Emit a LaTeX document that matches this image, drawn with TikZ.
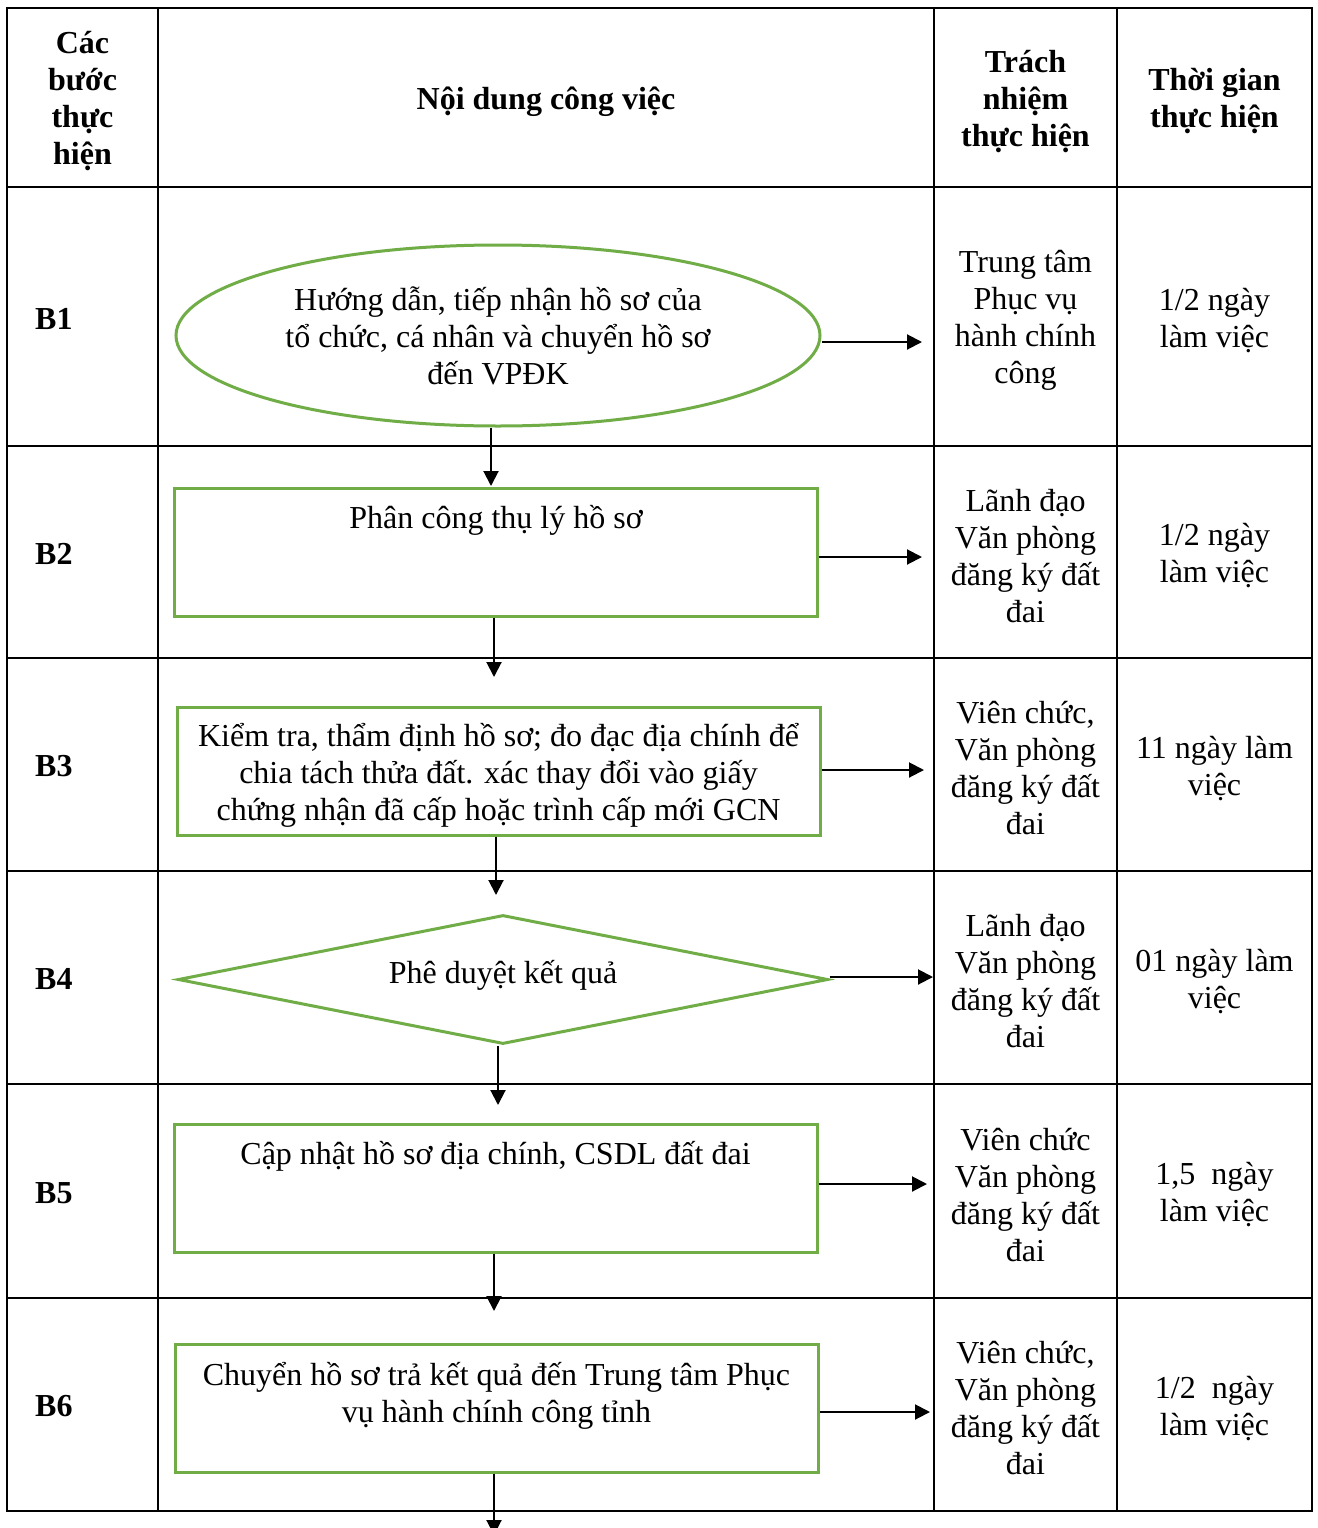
\documentclass[tikz,border=0pt]{standalone}
\usepackage{fontspec}
\setmainfont{Liberation Serif}
\usetikzlibrary{shapes.geometric,arrows.meta}

\definecolor{stepgreen}{RGB}{112,173,71}
\newcommand{\cellfont}{\fontsize{32}{37}\selectfont}

\tikzset{
  cell/.style={
    align=center,
    inner sep=0pt,
    yshift=-4pt
  },
  cellhead/.style={
    cell,
    font=\cellfont\bfseries
  },
  stepshape/.style={
    draw=stepgreen,
    line width=3pt,
    inner sep=0pt,
    align=center
  },
  stepbox/.style={
    stepshape,
    rectangle,
    minimum width=643pt,
    minimum height=128pt
  },
  stepoval/.style={
    stepshape,
    ellipse,
    minimum width=644pt,
    minimum height=181pt
  },
  stepcheck/.style={
    stepshape,
    diamond,
    aspect=5,
    minimum width=650pt,
    minimum height=129pt
  },
  flow/.style={
    -{Triangle[length=15pt,width=15pt]},
    line width=2pt
  },
}

\begin{document}
\begin{tikzpicture}[x=1pt, y=-1pt, font=\cellfont]

  \clip (0,0) rectangle (1317,1528);
  \fill[white] (0,0) rectangle (1317,1528);

  % table grid
  \foreach \x in {7,158,934,1117,1312}
    \draw[line width=2pt, line cap=rect] (\x,8) -- (\x,1511);
  \foreach \y in {8,187,446,658,871,1084,1298,1511}
    \draw[line width=2pt, line cap=rect] (7,\y) -- (1312,\y);

  % header row
  \foreach \x/\t [count=\i] in {82.5/{Các\\bước\\thực\\hiện},
                                546/{Nội dung công việc},
                                1025.5/{Trách\\nhiệm\\thực hiện},
                                1214.5/{Thời gian\\thực hiện}}
    \node[cellhead] (head-\i) at (\x,97.5) {\t};

  % step labels
  \foreach \y [count=\i] in {314.5,550,762.5,975.5,1189,1402.5}
    \node[cellhead, anchor=west] (label-\i) at (35,\y) {B\i};

  % who is responsible
  \foreach \y/\t [count=\i] in {316.5/{Trung tâm\\Phục vụ\\hành chính\\công},
                                552/{Lãnh đạo\\Văn phòng\\đăng ký đất\\đai},
                                764.5/{Viên chức,\\Văn phòng\\đăng ký đất\\đai},
                                977.5/{Lãnh đạo\\Văn phòng\\đăng ký đất\\đai},
                                1191/{Viên chức\\Văn phòng\\đăng ký đất\\đai},
                                1404.5/{Viên chức,\\Văn phòng\\đăng ký đất\\đai}}
    \node[cell] (who-\i) at (1025.5,\y) {\t};

  % time needed
  \foreach \y/\t [count=\i] in {316.5/{1/2 ngày\\làm việc},
                                552/{1/2 ngày\\làm việc},
                                764.5/{11 ngày làm\\việc},
                                977.5/{01 ngày làm\\việc},
                                1191/{1,5\ \ ngày\\làm việc},
                                1404.5/{1/2\ \ ngày\\làm việc}}
    \node[cell] (time-\i) at (1214.5,\y) {\t};

  % flow steps
  \node[stepoval] (b1) at (498,335.5) {Hướng dẫn, tiếp nhận hồ sơ của\\tổ chức, cá nhân và chuyển hồ sơ\\đến VPĐK};
  \node[stepbox, text height=22pt, text depth=70pt] (b2) at (496,552) {Phân công thụ lý hồ sơ};
  \node[stepbox, text height=108pt, text depth=10pt] (b3) at (498.5,771) {Kiểm tra, thẩm định hồ sơ; đo đạc địa chính để\\chia tách thửa đất. xác thay đổi vào giấy\\chứng nhận đã cấp hoặc trình cấp mới GCN};
  \node[stepcheck, text height=12pt, text depth=4pt] (b4) at (503,979.5) {Phê duyệt kết quả};
  \node[stepbox, text height=22pt, text depth=70pt] (b5) at (495.5,1188) {Cập nhật hồ sơ địa chính, CSDL đất đai};
  \node[stepbox, text height=38pt, text depth=10pt] (b6) at (496.5,1408) {Chuyển hồ sơ trả kết quả đến Trung tâm Phục\\vụ hành chính công tỉnh};

  % arrows to the right
  \foreach \y/\x [count=\i] in {342/922,557/922,770/924,977/933,1184/927,1412/930}
    \coordinate (out-\i) at (\x,\y);
  \foreach \i in {1,...,6}
    \draw[flow] (b\i.east |- out-\i) -- (out-\i);

  % arrows down
  \foreach \x/\y [count=\i] in {491/486,494/677,496/895,498/1105,494/1311,494/1535}
    \coordinate (down-\i) at (\x,\y);
  \foreach \i in {1,...,6}
    \draw[flow] (b\i.south -| down-\i) -- (down-\i);

\end{tikzpicture}
\end{document}
